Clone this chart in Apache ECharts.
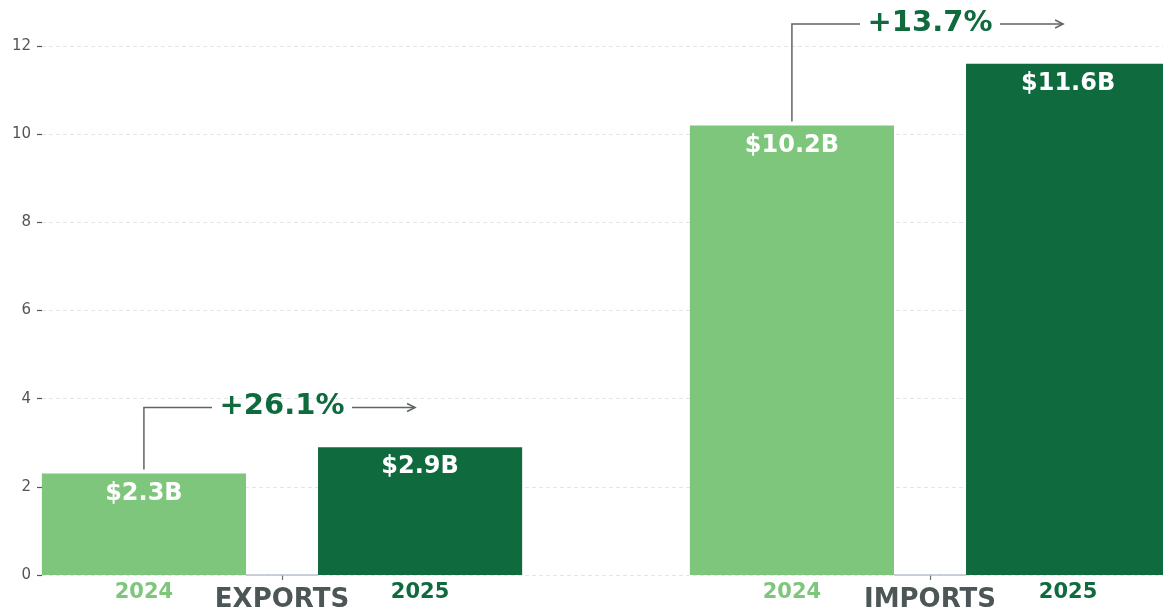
<!DOCTYPE html>
<html>
<head>
<meta charset="utf-8">
<script src="https://cdn.jsdelivr.net/npm/echarts@6/dist/echarts.min.js"></script>
<style>
  html, body { margin: 0; padding: 0; background: #fff; }
  #chart { width: 1163px; height: 611px; }
</style>
</head>
<body>
<div id="chart"></div>
<script>
const categories = ['EXPORTS', 'IMPORTS'];
const years = ['2024', '2025'];
const values2024 = [2.3, 10.2];
const values2025 = [2.9, 11.6];
const changes = ['+26.1%', '+13.7%'];
const yTicks = [0, 2, 4, 6, 8, 10, 12];

const LIGHT = '#7dc67b';
const DARK = '#0f6b3e';
const FONT = 'DejaVu Sans';
const BAR_W = 0.315;   // share of the category band
const GAP = 0.353;     // gap between the two bars, share of bar width

const chart = echarts.init(document.getElementById('chart'), null, { renderer: 'canvas' });

// annotation: bracket + percent change + arrow, year labels, base segment
function renderNote(params, api) {
  const idx = params.dataIndex;
  const i = api.value(0);
  const band = api.size([1, 0])[0];
  const half = band * BAR_W / 2;
  const off = band * BAR_W * (1 + GAP) / 2;
  const base = api.coord([i, 0]);
  const cx = base[0], y0 = base[1];
  const x1 = cx - off, x2 = cx + off;
  const top1 = api.coord([i, api.value(1)])[1] - 4;
  const level = api.coord([i, Math.max(api.value(1), api.value(2)) + 0.9])[1];
  const stroke = { stroke: '#5f6466', lineWidth: 1.5, fill: null };
  return {
    type: 'group',
    children: [
      { type: 'line', shape: { x1: x1 + half, y1: y0, x2: x2 - half, y2: y0 },
        style: { stroke: '#b9c0cc', lineWidth: 1.5 } },
      { type: 'polyline', shape: { points: [[x1, top1], [x1, level], [cx - 70, level]] }, style: stroke },
      { type: 'line', shape: { x1: cx + 70, y1: level, x2: x2 - 5, y2: level }, style: stroke },
      { type: 'polyline', shape: { points: [[x2 - 13, level - 4], [x2 - 5, level], [x2 - 13, level + 4]] }, style: stroke },
      { type: 'text', x: cx, y: level - 1,
        style: { text: changes[idx], fill: DARK, font: 'bold 29px "' + FONT + '"', align: 'center', verticalAlign: 'middle' } },
      { type: 'text', x: x1, y: y0 + 18,
        style: { text: years[0], fill: LIGHT, font: 'bold 21px "' + FONT + '"', align: 'center', verticalAlign: 'middle' } },
      { type: 'text', x: x2, y: y0 + 18,
        style: { text: years[1], fill: DARK, font: 'bold 21px "' + FONT + '"', align: 'center', verticalAlign: 'middle' } }
    ]
  };
}

const valueLabel = {
  show: true,
  position: 'insideTop',
  distance: 8,
  color: '#fff',
  fontFamily: FONT,
  fontWeight: 'bold',
  fontSize: 24,
  formatter: p => '$' + p.value.toFixed(1) + 'B'
};

chart.setOption({
  animation: false,
  textStyle: { fontFamily: FONT },
  grid: [
    { left: 42, right: 0, top: 46, bottom: 36, outerBoundsMode: 'none', containLabel: false },
    { left: -42, width: 1296, top: 2, bottom: 36, outerBoundsMode: 'none', containLabel: false }
  ],
  xAxis: [
    { gridIndex: 0, type: 'value', show: false },
    {
      gridIndex: 1,
      type: 'category',
      data: categories,
      axisLine: { show: false },
      axisTick: { show: true, alignWithLabel: true, length: 5, lineStyle: { color: '#6b6f72', width: 1.2 } },
      axisLabel: { color: '#4d5657', fontSize: 26, fontWeight: 'bold', fontFamily: FONT, margin: 12 }
    }
  ],
  yAxis: [
    {
      gridIndex: 0,
      type: 'value',
      min: 0,
      max: yTicks[yTicks.length - 1],
      interval: 2,
      axisLine: { show: false },
      axisTick: { show: true, length: 5, lineStyle: { color: '#555', width: 1.2 } },
      axisLabel: { color: '#555', fontSize: 15, margin: 11, fontFamily: FONT },
      splitLine: { show: true, lineStyle: { color: '#e6e6e6', type: [4, 3], width: 1 } }
    },
    { gridIndex: 1, type: 'value', min: 0, max: 13, show: false }
  ],
  series: [
    {
      name: years[0],
      type: 'bar',
      xAxisIndex: 1,
      yAxisIndex: 1,
      data: values2024,
      barWidth: (BAR_W * 100) + '%',
      barGap: (GAP * 100) + '%',
      itemStyle: { color: LIGHT },
      label: valueLabel
    },
    {
      name: years[1],
      type: 'bar',
      xAxisIndex: 1,
      yAxisIndex: 1,
      data: values2025,
      barWidth: (BAR_W * 100) + '%',
      barGap: (GAP * 100) + '%',
      itemStyle: { color: DARK },
      label: valueLabel
    },
    {
      type: 'custom',
      xAxisIndex: 1,
      yAxisIndex: 1,
      z: 5,
      clip: false,
      renderItem: renderNote,
      data: categories.map((c, i) => [i, values2024[i], values2025[i]])
    }
  ]
});
</script>
</body>
</html>
